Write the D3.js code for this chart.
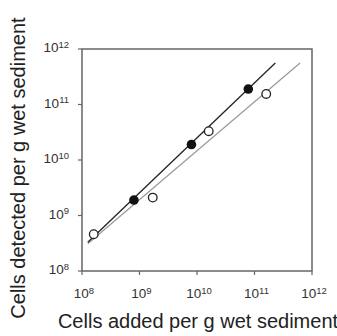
<!DOCTYPE html>
<html>
<head>
<meta charset="utf-8">
<script src="https://cdn.jsdelivr.net/npm/d3@7"></script>
<style>
  body { margin: 0; background: #fff; }
  svg { font-family: "Liberation Sans", Arial, sans-serif; }
</style>
</head>
<body>
<svg class="canvas" width="337" height="336"></svg>
<script>
// cells added vs detected (log-log)
var tickExps = [8, 9, 10, 11, 12];

var filledX = [8e8, 8e9, 7.8e10];
var filledY = [1.9e9, 1.9e10, 1.9e11];
var openX = [1.6e8, 1.7e9, 1.6e10, 1.6e11];
var openY = [4.6e8, 2.1e9, 3.3e10, 1.55e11];

// regression line ends, [x, y]
var filledFit = [[1.26e8, 3.3e8], [2.3e11, 5.6e11]];
var openFit = [[1.26e8, 3.1e8], [6.2e11, 5.6e11]];

var margin = {top: 49, right: 25, bottom: 65, left: 82};
var width = 337 - margin.left - margin.right;
var height = 336 - margin.top - margin.bottom;

var svg = d3.select('.canvas');
var chart = svg.append('g')
    .attr('transform', 'translate(' + margin.left + ',' + margin.top + ')');

var x = d3.scaleLog().domain([1e8, 1e12]).range([0, width]);
var y = d3.scaleLog().domain([1e8, 1e12]).range([height, 0]);

var frameColor = '#666';

// ticks + labels
function tickLabel(sel, e) {
    sel.append('tspan').text('10');
    sel.append('tspan').attr('dy', '-0.45em').style('font-size', '9.5px').text(e);
}

tickExps.forEach(function(e){
    var v = Math.pow(10, e);
    chart.append('line')
        .attr('x1', x(v)).attr('x2', x(v))
        .attr('y1', height).attr('y2', height + 4)
        .attr('stroke', frameColor).attr('stroke-width', 1.2);
    chart.append('line')
        .attr('x1', -4).attr('x2', 0)
        .attr('y1', y(v)).attr('y2', y(v))
        .attr('stroke', frameColor).attr('stroke-width', 1.2);

    var xt = chart.append('text')
        .attr('x', x(v) + 2).attr('y', height + 27)
        .attr('text-anchor', 'middle')
        .style('font-size', '13.5px').attr('fill', '#333');
    tickLabel(xt, e);

    var yt = chart.append('text')
        .attr('x', -13).attr('y', y(v) + 3)
        .attr('text-anchor', 'end')
        .style('font-size', '13.5px').attr('fill', '#333');
    tickLabel(yt, e);
});

// frame
chart.append('rect')
    .attr('x', 0).attr('y', 0)
    .attr('width', width).attr('height', height)
    .attr('fill', 'none')
    .attr('stroke', frameColor)
    .attr('stroke-width', 1.5);

// fit lines
var line = d3.line().x(d => x(d[0])).y(d => y(d[1]));
chart.append('path').datum(openFit)
    .attr('d', line).attr('fill', 'none')
    .attr('stroke', '#999').attr('stroke-width', 1.2);
chart.append('path').datum(filledFit)
    .attr('d', line).attr('fill', 'none')
    .attr('stroke', '#222').attr('stroke-width', 1.3);

// points
chart.selectAll('.open-pt')
    .data(d3.zip(openX, openY))
    .enter().append('circle')
    .classed('open-pt', true)
    .attr('cx', d => x(d[0])).attr('cy', d => y(d[1]))
    .attr('r', 4.3)
    .attr('fill', '#fff').attr('stroke', '#222').attr('stroke-width', 1.3);

chart.selectAll('.filled-pt')
    .data(d3.zip(filledX, filledY))
    .enter().append('circle')
    .classed('filled-pt', true)
    .attr('cx', d => x(d[0])).attr('cy', d => y(d[1]))
    .attr('r', 4.8)
    .attr('fill', '#111');

// axis titles
svg.append('text')
    .attr('x', 198)
    .attr('y', 328)
    .attr('text-anchor', 'middle')
    .style('font-size', '20px').attr('fill', '#222')
    .text('Cells added per g wet sediment');

svg.append('text')
    .attr('transform', 'translate(25,168) rotate(-90)')
    .attr('text-anchor', 'middle')
    .style('font-size', '20px').attr('fill', '#222')
    .text('Cells detected per g wet sediment');
</script>
</body>
</html>
